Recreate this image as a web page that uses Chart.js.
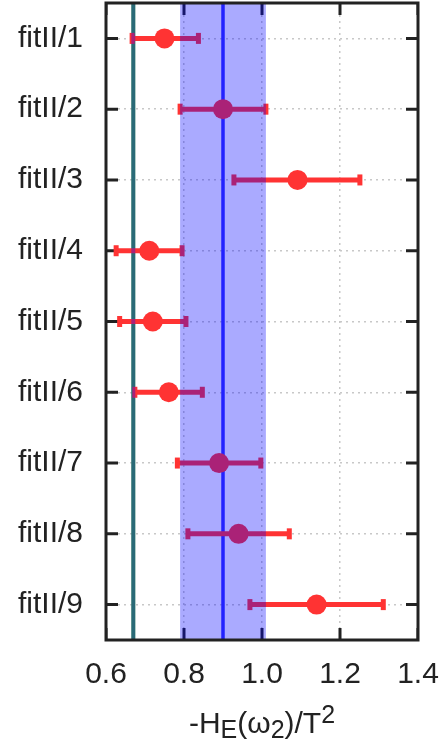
<!DOCTYPE html>
<html>
<head>
<meta charset="utf-8">
<script src="https://cdn.jsdelivr.net/npm/chart.js@4/dist/chart.umd.min.js"></script>
<style>
  html, body { margin: 0; padding: 0; background: #fff; }
  canvas { display: block; }
</style>
</head>
<body>
<canvas id="c" width="448" height="742"></canvas>
<script>
// Fit labels and their central values with lower / upper error-bar ends
const categories   = ['fitII/1', 'fitII/2', 'fitII/3', 'fitII/4', 'fitII/5', 'fitII/6', 'fitII/7', 'fitII/8', 'fitII/9'];
const centralValues = [0.750, 0.900, 1.091, 0.711, 0.720, 0.761, 0.890, 0.940, 1.140];
const lowerBounds   = [0.667, 0.790, 0.928, 0.626, 0.635, 0.674, 0.783, 0.810, 0.969];
const upperBounds   = [0.837, 1.010, 1.251, 0.795, 0.805, 0.847, 0.997, 1.070, 1.311];

// Reference band (low, central, high) and the single reference value
const bandRange  = [0.79, 1.01];
const bandCenter = 0.90;
const referenceValue = 0.67;

// Axis ticks
const xTicks = [0.6, 0.8, 1.0, 1.2, 1.4];

const FONT = '"Liberation Sans", Arial, Helvetica, sans-serif';
const TEXT = '#222222';

function noPadding(s) {
  s.paddingTop = 0; s.paddingBottom = 0; s.paddingLeft = 0; s.paddingRight = 0;
}

const decorations = {
  id: 'decorations',
  beforeDatasetsDraw(chart) {
    const { ctx, chartArea: a, scales: { x, y } } = chart;
    ctx.save();
    ctx.beginPath();
    ctx.rect(a.left, a.top, a.right - a.left, a.bottom - a.top);
    ctx.clip();

    // inward tick marks (later tinted by the band overlay)
    ctx.strokeStyle = TEXT;
    ctx.lineWidth = 3;
    const tl = 12;
    xTicks.forEach(v => {
      const px = x.getPixelForValue(v);
      ctx.beginPath();
      ctx.moveTo(px, a.bottom); ctx.lineTo(px, a.bottom - tl);
      ctx.moveTo(px, a.top); ctx.lineTo(px, a.top + tl);
      ctx.stroke();
    });
    categories.forEach((c, i) => {
      const py = y.getPixelForValue(i);
      ctx.beginPath();
      ctx.moveTo(a.left, py); ctx.lineTo(a.left + tl, py);
      ctx.moveTo(a.right, py); ctx.lineTo(a.right - tl, py);
      ctx.stroke();
    });

    // reference value line
    const rx = x.getPixelForValue(referenceValue);
    ctx.strokeStyle = '#40a033';
    ctx.lineWidth = 4;
    ctx.beginPath();
    ctx.moveTo(rx, a.top); ctx.lineTo(rx, a.bottom);
    ctx.stroke();

    // band central line
    const cx = x.getPixelForValue(bandCenter);
    ctx.strokeStyle = '#3333ff';
    ctx.lineWidth = 3.5;
    ctx.beginPath();
    ctx.moveTo(cx, a.top); ctx.lineTo(cx, a.bottom);
    ctx.stroke();

    // horizontal error bars with end caps
    ctx.strokeStyle = '#ff3333';
    ctx.fillStyle = '#ff3333';
    ctx.lineWidth = 5;
    categories.forEach((c, i) => {
      const py = y.getPixelForValue(i);
      const x1 = x.getPixelForValue(lowerBounds[i]);
      const x2 = x.getPixelForValue(upperBounds[i]);
      ctx.beginPath();
      ctx.moveTo(x1, py); ctx.lineTo(x2, py);
      ctx.stroke();
      ctx.fillRect(x1 - 2.5, py - 5.5, 5, 11);
      ctx.fillRect(x2 - 2.5, py - 5.5, 5, 11);
    });
    ctx.restore();
  },
  afterDatasetsDraw(chart) {
    const { ctx, chartArea: a, scales: { x } } = chart;
    ctx.save();
    ctx.fillStyle = 'rgba(0, 0, 255, 0.333)';
    const b1 = x.getPixelForValue(bandRange[0]);
    const b2 = x.getPixelForValue(bandRange[1]);
    ctx.fillRect(b1, a.top, b2 - b1, a.bottom - a.top);
    const rx = x.getPixelForValue(referenceValue);
    ctx.fillRect(rx - 2, a.top, 4, a.bottom - a.top);
    ctx.restore();
  },
  afterDraw(chart) {
    const { ctx, chartArea: a } = chart;
    ctx.save();
    // frame
    ctx.strokeStyle = TEXT;
    ctx.lineWidth = 3;
    ctx.strokeRect(a.left, a.top, a.right - a.left, a.bottom - a.top);

    // axis title with sub/superscripts
    const big = '30px ' + FONT;
    const small = '25px ' + FONT;
    const parts = [
      { t: '-H', f: big, dy: 0 },
      { t: 'E', f: small, dy: 5 },
      { t: '(\u03C9', f: big, dy: 0 },
      { t: '2', f: small, dy: 5 },
      { t: ')/T', f: big, dy: 0 },
      { t: '2', f: small, dy: -10 }
    ];
    let total = 0;
    parts.forEach(p => { ctx.font = p.f; p.w = ctx.measureText(p.t).width; total += p.w; });
    let px = (a.left + a.right) / 2 - total / 2;
    const base = 733;
    ctx.fillStyle = TEXT;
    ctx.textBaseline = 'alphabetic';
    ctx.textAlign = 'left';
    parts.forEach(p => {
      ctx.font = p.f;
      ctx.fillText(p.t, px, base + p.dy);
      px += p.w;
    });
    ctx.restore();
  }
};

new Chart(document.getElementById('c'), {
  type: 'line',
  data: {
    labels: categories,
    datasets: [{
      data: centralValues,
      showLine: false,
      pointRadius: 10,
      pointHoverRadius: 10,
      pointBackgroundColor: '#ff3333',
      pointBorderWidth: 0,
      borderColor: '#ff3333'
    }]
  },
  options: {
    indexAxis: 'y',
    responsive: false,
    animation: false,
    events: [],
    layout: { autoPadding: false, padding: { left: 0, right: 30, top: 3, bottom: 0 } },
    plugins: { legend: { display: false }, tooltip: { enabled: false } },
    scales: {
      x: {
        type: 'linear',
        min: 0.6,
        max: 1.4,
        afterFit(s) { s.height = 102; noPadding(s); },
        afterBuildTicks(s) { s.ticks = xTicks.map(v => ({ value: v })); },
        ticks: {
          padding: 17,
          color: TEXT,
          font: { family: FONT, size: 30 },
          callback: v => Number(v).toFixed(1),
          maxRotation: 0
        },
        grid: { color: '#c8c8c8', lineWidth: 1.5, drawTicks: false },
        border: { display: false, dash: [2, 4] }
      },
      y: {
        type: 'category',
        offset: true,
        afterFit(s) { s.width = 106; noPadding(s); },
        ticks: {
          padding: 23,
          color: TEXT,
          font: { family: FONT, size: 30 }
        },
        grid: { offset: false, color: '#c8c8c8', lineWidth: 1.5, drawTicks: false },
        border: { display: false, dash: [2, 4] }
      }
    }
  },
  plugins: [decorations]
});
</script>
</body>
</html>
